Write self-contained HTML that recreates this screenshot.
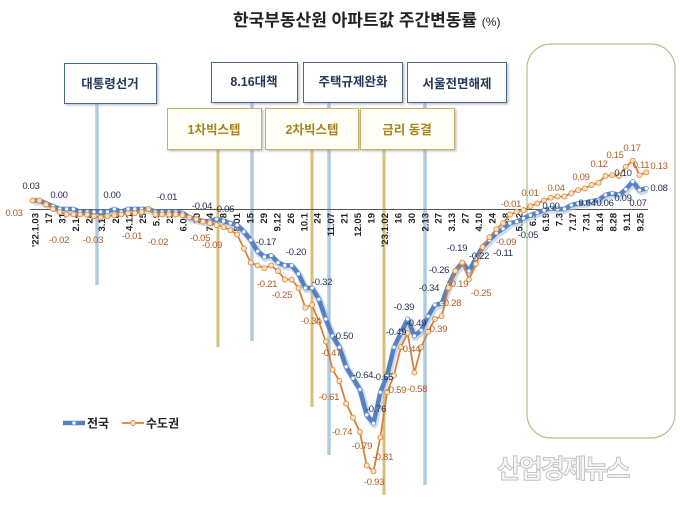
<!DOCTYPE html>
<html><head><meta charset="utf-8"><style>
html,body{margin:0;padding:0;background:#fff;}
body{width:680px;height:520px;overflow:hidden;position:relative;font-family:"Liberation Sans","Noto Sans CJK KR",sans-serif;}
svg{position:absolute;left:0;top:0;}
.tk{font-family:"Liberation Sans","Noto Sans CJK KR",sans-serif;font-size:9.5px;font-weight:bold;fill:#222;text-anchor:end;}
.lb{font-family:"Liberation Sans",sans-serif;font-size:9.5px;fill:#1f2d4d;text-anchor:middle;letter-spacing:-0.3px;}
.lo{font-family:"Liberation Sans",sans-serif;font-size:9.5px;fill:#b05a22;text-anchor:middle;letter-spacing:-0.3px;}
.bt{font-family:"Liberation Sans","Noto Sans CJK KR",sans-serif;font-size:12.5px;font-weight:bold;text-anchor:middle;}
</style></head><body>
<svg width="680" height="520" viewBox="0 0 680 520" xmlns="http://www.w3.org/2000/svg">
<defs>
<marker id="mb" markerWidth="6" markerHeight="6" refX="3" refY="3" markerUnits="userSpaceOnUse"><circle cx="3" cy="3" r="2" fill="#fff" stroke="#6b93cc" stroke-width="0.8"/></marker>
<marker id="mo" markerWidth="7" markerHeight="7" refX="3.5" refY="3.5" markerUnits="userSpaceOnUse"><circle cx="3.5" cy="3.5" r="2.5" fill="#fde3bd" stroke="#dd8a45" stroke-width="0.9"/></marker>
<filter id="sh" x="-10%" y="-10%" width="130%" height="140%"><feDropShadow dx="1.5" dy="1.5" stdDeviation="1" flood-color="#888" flood-opacity="0.5"/></filter>
</defs>

<!-- title -->
<text x="233" y="26" font-family="Liberation Sans, Noto Sans CJK KR, sans-serif" font-size="17" font-weight="bold" fill="#222">한국부동산원 아파트값 주간변동률 <tspan font-size="12" font-weight="normal">(%)</tspan></text>

<!-- green highlight box -->
<rect x="527" y="44" width="148" height="394" rx="24" ry="24" fill="none" stroke="#a9c48a" stroke-width="1.2"/>

<!-- vertical event lines -->
<g stroke-width="3.5" opacity="0.9">
<line x1="97" y1="103" x2="97" y2="285" stroke="#aac5de"/>
<line x1="252" y1="102" x2="252" y2="341" stroke="#aac5de"/>
<line x1="329" y1="102" x2="329" y2="455" stroke="#aac5de"/>
<line x1="425" y1="102" x2="425" y2="485" stroke="#aac5de"/>
</g>
<g stroke-width="3" opacity="0.9">
<line x1="218" y1="149" x2="218" y2="347" stroke="#d4ba6e"/>
<line x1="312" y1="149" x2="312" y2="407" stroke="#d4ba6e"/>
<line x1="384" y1="149" x2="384" y2="495" stroke="#d4ba6e"/>
</g>

<!-- boxes -->
<g filter="url(#sh)">
<rect x="64.5" y="63.5" width="92" height="40" fill="#fff" stroke="#4b6b8f" stroke-width="1"/>
<rect x="211.5" y="62.5" width="86" height="40" fill="#fff" stroke="#4b6b8f" stroke-width="1"/>
<rect x="303.5" y="62.5" width="99" height="40" fill="#fff" stroke="#4b6b8f" stroke-width="1"/>
<rect x="407.5" y="62.5" width="99" height="40" fill="#fff" stroke="#4b6b8f" stroke-width="1"/>
<rect x="167.5" y="108.5" width="94" height="41" fill="#fffef6" stroke="#c9b06b" stroke-width="1"/>
<rect x="265.5" y="108.5" width="93" height="41" fill="#fffef6" stroke="#c9b06b" stroke-width="1"/>
<rect x="360.5" y="108.5" width="94" height="41" fill="#fffef6" stroke="#c9b06b" stroke-width="1"/>
</g>
<g class="bt" fill="#23395b">
<text class="bt" x="110" y="88" fill="#23395b">대통령선거</text>
<text class="bt" x="254" y="86" fill="#23395b">8.16대책</text>
<text class="bt" x="353" y="86" fill="#23395b">주택규제완화</text>
<text class="bt" x="457" y="88" fill="#23395b">서울전면해제</text>
<text class="bt" x="214" y="134" fill="#a8821a">1차빅스텝</text>
<text class="bt" x="312" y="134" fill="#a8821a">2차빅스텝</text>
<text class="bt" x="407" y="134" fill="#a8821a">금리 동결</text>
</g>

<!-- zero axis -->
<line x1="30" y1="209.5" x2="648" y2="209.5" stroke="#555" stroke-width="1"/>

<!-- tick labels -->
<g>
<text class="tk" transform="translate(38.5,213) rotate(-90)">'22.1.03</text>
<text class="tk" transform="translate(51.9,213) rotate(-90)">17</text>
<text class="tk" transform="translate(65.4,213) rotate(-90)">31</text>
<text class="tk" transform="translate(78.8,213) rotate(-90)">2.14</text>
<text class="tk" transform="translate(92.3,213) rotate(-90)">28</text>
<text class="tk" transform="translate(105.2,213) rotate(-90)">3.14</text>
<text class="tk" transform="translate(119.1,213) rotate(-90)">28</text>
<text class="tk" transform="translate(132.6,213) rotate(-90)">4.11</text>
<text class="tk" transform="translate(146,213) rotate(-90)">25</text>
<text class="tk" transform="translate(159.5,213) rotate(-90)">5.9</text>
<text class="tk" transform="translate(172.9,213) rotate(-90)">23</text>
<text class="tk" transform="translate(186.3,213) rotate(-90)">6.06</text>
<text class="tk" transform="translate(199.8,213) rotate(-90)">20</text>
<text class="tk" transform="translate(213.2,213) rotate(-90)">7.04</text>
<text class="tk" transform="translate(226.7,213) rotate(-90)">18</text>
<text class="tk" transform="translate(240.1,213) rotate(-90)">8.01</text>
<text class="tk" transform="translate(253.5,213) rotate(-90)">15</text>
<text class="tk" transform="translate(267,213) rotate(-90)">29</text>
<text class="tk" transform="translate(280.4,213) rotate(-90)">9.12</text>
<text class="tk" transform="translate(293.9,213) rotate(-90)">26</text>
<text class="tk" transform="translate(307.3,213) rotate(-90)">10.1</text>
<text class="tk" transform="translate(320.7,213) rotate(-90)">24</text>
<text class="tk" transform="translate(334.2,213) rotate(-90)">11.07</text>
<text class="tk" transform="translate(347.6,213) rotate(-90)">21</text>
<text class="tk" transform="translate(361.1,213) rotate(-90)">12.05</text>
<text class="tk" transform="translate(374.5,213) rotate(-90)">19</text>
<text class="tk" transform="translate(387.9,213) rotate(-90)">'23.1.02</text>
<text class="tk" transform="translate(401.4,213) rotate(-90)">16</text>
<text class="tk" transform="translate(414.8,213) rotate(-90)">30</text>
<text class="tk" transform="translate(428.3,213) rotate(-90)">2.13</text>
<text class="tk" transform="translate(441.7,213) rotate(-90)">27</text>
<text class="tk" transform="translate(455.1,213) rotate(-90)">3.13</text>
<text class="tk" transform="translate(468.6,213) rotate(-90)">27</text>
<text class="tk" transform="translate(482,213) rotate(-90)">4.10</text>
<text class="tk" transform="translate(495.5,213) rotate(-90)">24</text>
<text class="tk" transform="translate(508.9,213) rotate(-90)">5.8</text>
<text class="tk" transform="translate(522.3,213) rotate(-90)">5.22</text>
<text class="tk" transform="translate(535.8,213) rotate(-90)">6.5</text>
<text class="tk" transform="translate(549.2,213) rotate(-90)">6.19</text>
<text class="tk" transform="translate(562.7,213) rotate(-90)">7.3</text>
<text class="tk" transform="translate(576.1,213) rotate(-90)">7.17</text>
<text class="tk" transform="translate(589.5,213) rotate(-90)">7.31</text>
<text class="tk" transform="translate(603,213) rotate(-90)">8.14</text>
<text class="tk" transform="translate(616.4,213) rotate(-90)">8.28</text>
<text class="tk" transform="translate(629.9,213) rotate(-90)">9.11</text>
<text class="tk" transform="translate(643.3,213) rotate(-90)">9.25</text>
</g>

<!-- 전국 series -->
<polyline fill="none" stroke="#a9bddc" stroke-width="7" stroke-linejoin="round" opacity="0.55" transform="translate(1,1.5)" points="32.5,200.5 39.3,200.5 46.1,203.4 53.0,206.2 59.8,209 66.6,209 73.4,209 80.2,211.8 87.1,211.8 93.9,211.8 100.7,211.8 107.5,211.8 114.3,209 121.2,211.8 128.0,209 134.8,209 141.6,209 148.4,209 155.3,211.8 162.1,211.8 168.9,211.8 175.7,211.8 182.5,213 189.4,217.5 196.2,219.2 203.0,221.1 209.8,221.1 216.6,219.2 223.5,221.1 230.3,223.1 237.1,225.1 243.9,231.6 250.7,240.0 257.6,251.3 264.4,256.9 271.2,255.5 278.0,262.6 284.8,265.4 291.7,265.4 298.5,273.9 305.3,288.0 312.1,288.0 318.9,299.2 325.8,319.0 332.6,335.9 339.4,347.2 346.2,366.9 353.0,378.2 359.9,389.5 366.7,414.9 373.5,423.3 380.3,392.3 387.1,375.4 394.0,347.2 400.8,333.1 407.6,319.0 414.4,335.9 421.2,330.3 428.1,316.2 434.9,304.9 441.7,303.5 448.5,285.1 455.3,271.0 462.2,262.6 469.0,271.0 475.8,258.4 482.6,247.1 489.4,240.0 496.3,233.0 503.1,228.7 509.9,223.1 516.7,221.7 523.5,218.3 530.4,215.2 537.2,212.7 544.0,210.1 550.8,208.4 557.6,209 564.5,209 571.3,205.1 578.1,203.4 584.9,202.8 591.7,201.1 598.6,200.0 605.4,194.9 612.2,193.2 619.0,194.9 625.8,189.3 632.7,181.6 639.5,190.1 646.3,188.4"/>
<polyline fill="none" stroke="#5681c1" stroke-width="4.5" stroke-linejoin="round" marker-start="url(#mb)" marker-mid="url(#mb)" marker-end="url(#mb)" points="32.5,200.5 39.3,200.5 46.1,203.4 53.0,206.2 59.8,209 66.6,209 73.4,209 80.2,211.8 87.1,211.8 93.9,211.8 100.7,211.8 107.5,211.8 114.3,209 121.2,211.8 128.0,209 134.8,209 141.6,209 148.4,209 155.3,211.8 162.1,211.8 168.9,211.8 175.7,211.8 182.5,213 189.4,217.5 196.2,219.2 203.0,221.1 209.8,221.1 216.6,219.2 223.5,221.1 230.3,223.1 237.1,225.1 243.9,231.6 250.7,240.0 257.6,251.3 264.4,256.9 271.2,255.5 278.0,262.6 284.8,265.4 291.7,265.4 298.5,273.9 305.3,288.0 312.1,288.0 318.9,299.2 325.8,319.0 332.6,335.9 339.4,347.2 346.2,366.9 353.0,378.2 359.9,389.5 366.7,414.9 373.5,423.3 380.3,392.3 387.1,375.4 394.0,347.2 400.8,333.1 407.6,319.0 414.4,335.9 421.2,330.3 428.1,316.2 434.9,304.9 441.7,303.5 448.5,285.1 455.3,271.0 462.2,262.6 469.0,271.0 475.8,258.4 482.6,247.1 489.4,240.0 496.3,233.0 503.1,228.7 509.9,223.1 516.7,221.7 523.5,218.3 530.4,215.2 537.2,212.7 544.0,210.1 550.8,208.4 557.6,209 564.5,209 571.3,205.1 578.1,203.4 584.9,202.8 591.7,201.1 598.6,200.0 605.4,194.9 612.2,193.2 619.0,194.9 625.8,189.3 632.7,181.6 639.5,190.1 646.3,188.4"/>

<!-- 수도권 series -->
<polyline fill="none" stroke="#d8813a" stroke-width="1.8" stroke-linejoin="round" marker-start="url(#mo)" marker-mid="url(#mo)" marker-end="url(#mo)" points="32.5,200.5 39.3,200.5 46.1,204.5 53.0,209 59.8,212.1 66.6,214.4 73.4,214.4 80.2,214.4 87.1,214.6 93.9,216.3 100.7,217.5 107.5,216.3 114.3,215.2 121.2,214.4 128.0,213.2 134.8,213.2 141.6,212.1 148.4,209 155.3,214.4 162.1,214.4 168.9,214.4 175.7,214.4 182.5,215.2 189.4,217.5 196.2,219.2 203.0,221.7 209.8,223.1 216.6,225.1 223.5,227.0 230.3,230.2 237.1,234.4 243.9,248.5 250.7,262.6 257.6,265.4 264.4,268.2 271.2,265.4 278.0,271.0 284.8,279.5 291.7,279.5 298.5,288.0 305.3,307.7 312.1,304.9 318.9,321.8 325.8,341.5 332.6,369.7 339.4,381.0 346.2,403.6 353.0,417.7 359.9,431.8 366.7,465.6 373.5,471.3 380.3,437.4 387.1,392.3 394.0,375.4 400.8,347.2 407.6,333.1 414.4,372.6 421.2,347.2 428.1,331.7 434.9,319.0 441.7,316.2 448.5,288.0 455.3,271.0 462.2,262.6 469.0,279.5 475.8,264.0 482.6,247.1 489.4,237.2 496.3,229.3 503.1,223.1 509.9,214.6 516.7,211.8 523.5,210.1 530.4,206.2 537.2,203.4 544.0,200.5 550.8,197.7 557.6,196.6 564.5,196.6 571.3,193.2 578.1,190.1 584.9,188.4 591.7,185.0 598.6,182.8 605.4,176.0 612.2,175.2 619.0,176.0 625.8,166.7 632.7,160.8 639.5,175.2 646.3,172.3"/>

<!-- 전국 labels -->
<g>
<text class="lb" x="31" y="189">0.03</text>
<text class="lb" x="59" y="198">0.00</text>
<text class="lb" x="112" y="198">0.00</text>
<text class="lb" x="167" y="200">-0.01</text>
<text class="lb" x="202" y="209">-0.04</text>
<text class="lb" x="224" y="212">-0.06</text>
<text class="lb" x="266" y="245">-0.17</text>
<text class="lb" x="296" y="255">-0.20</text>
<text class="lb" x="322" y="285">-0.32</text>
<text class="lb" x="343" y="339">-0.50</text>
<text class="lb" x="363" y="378">-0.64</text>
<text class="lb" x="383" y="380">-0.65</text>
<text class="lb" x="376" y="412">-0.76</text>
<text class="lb" x="396" y="335">-0.49</text>
<text class="lb" x="404" y="310">-0.39</text>
<text class="lb" x="416" y="326">-0.49</text>
<text class="lb" x="429" y="291">-0.34</text>
<text class="lb" x="439" y="273">-0.26</text>
<text class="lb" x="457" y="251">-0.19</text>
<text class="lb" x="479" y="259">-0.22</text>
<text class="lb" x="503" y="256">-0.11</text>
<text class="lb" x="528" y="238">-0.05</text>
<text class="lb" x="551" y="209">0.00</text>
<text class="lb" x="587" y="206">0.04</text>
<text class="lb" x="605" y="206">0.06</text>
<text class="lb" x="623" y="201">0.09</text>
<text class="lb" x="623" y="176">0.10</text>
<text class="lb" x="638" y="206">0.07</text>
<text class="lb" x="659" y="191">0.08</text>
</g>

<!-- 수도권 labels -->
<g>
<text class="lo" x="14" y="216">0.03</text>
<text class="lo" x="59" y="243">-0.02</text>
<text class="lo" x="93" y="243">-0.03</text>
<text class="lo" x="132" y="239">-0.01</text>
<text class="lo" x="158" y="245">-0.02</text>
<text class="lo" x="200" y="241">-0.05</text>
<text class="lo" x="212" y="248">-0.09</text>
<text class="lo" x="267" y="287">-0.21</text>
<text class="lo" x="282" y="298">-0.25</text>
<text class="lo" x="311" y="324">-0.34</text>
<text class="lo" x="331" y="356">-0.47</text>
<text class="lo" x="329" y="400">-0.61</text>
<text class="lo" x="342" y="435">-0.74</text>
<text class="lo" x="362" y="449">-0.79</text>
<text class="lo" x="383" y="460">-0.81</text>
<text class="lo" x="374" y="485">-0.93</text>
<text class="lo" x="396" y="393">-0.59</text>
<text class="lo" x="417" y="392">-0.58</text>
<text class="lo" x="410" y="352">-0.44</text>
<text class="lo" x="437" y="332">-0.39</text>
<text class="lo" x="451" y="306">-0.28</text>
<text class="lo" x="458" y="287">-0.19</text>
<text class="lo" x="481" y="296">-0.25</text>
<text class="lo" x="506" y="245">-0.09</text>
<text class="lo" x="511" y="207">-0.01</text>
<text class="lo" x="530" y="196">0.01</text>
<text class="lo" x="556" y="191">0.04</text>
<text class="lo" x="581" y="180">0.09</text>
<text class="lo" x="599" y="167">0.12</text>
<text class="lo" x="615" y="158">0.15</text>
<text class="lo" x="632" y="151">0.17</text>
<text class="lo" x="641" y="168">0.11</text>
<text class="lo" x="659" y="169">0.13</text>
</g>

<!-- legend -->
<line x1="63" y1="423" x2="85" y2="423" stroke="#5681c1" stroke-width="4.5"/>
<circle cx="74" cy="423" r="2" fill="#fff" stroke="#6b93cc" stroke-width="0.8"/>
<text x="87" y="427.5" font-family="Liberation Sans, Noto Sans CJK KR, sans-serif" font-size="12" font-weight="bold" fill="#222">전국</text>
<line x1="122" y1="423" x2="144" y2="423" stroke="#d8813a" stroke-width="1.8"/>
<circle cx="133" cy="423" r="2.5" fill="#fde3bd" stroke="#dd8a45" stroke-width="0.9"/>
<text x="146" y="427.5" font-family="Liberation Sans, Noto Sans CJK KR, sans-serif" font-size="12" font-weight="bold" fill="#222">수도권</text>

<!-- watermark -->
<text x="497" y="478" font-family="Liberation Sans, Noto Sans CJK KR, sans-serif" font-size="26" font-weight="bold" letter-spacing="-2" fill="#f6f6f6" stroke="#c4c4c4" stroke-width="1">산업경제뉴스</text>
</svg>
</body></html>
